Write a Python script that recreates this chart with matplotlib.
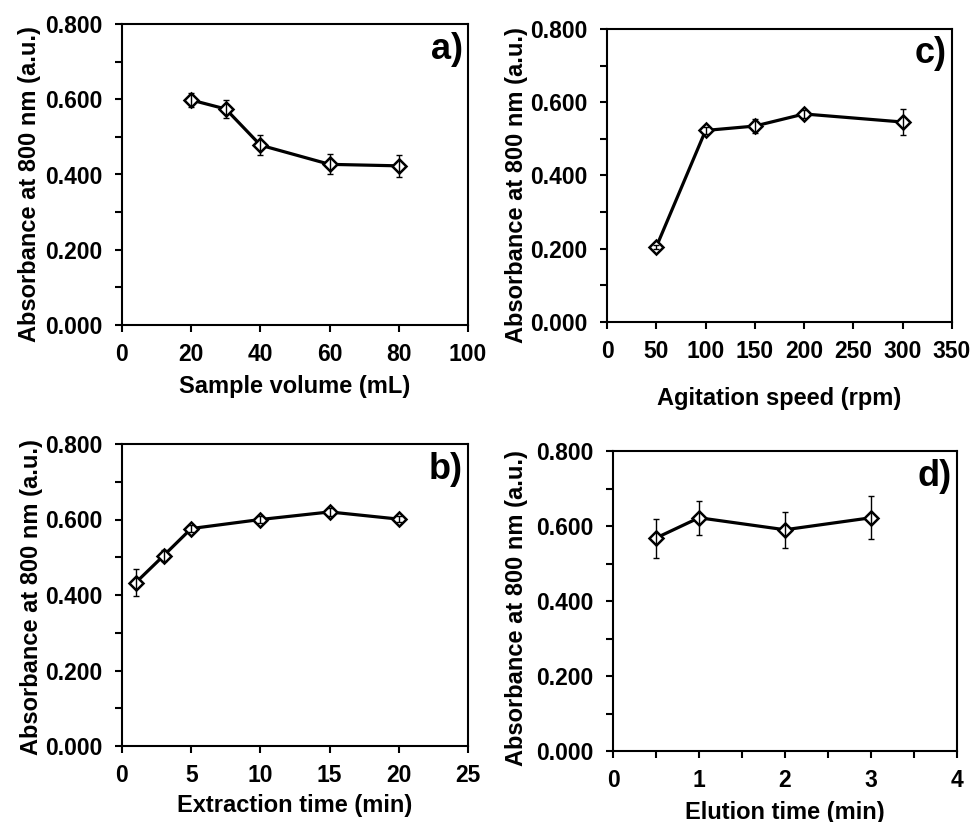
import matplotlib
matplotlib.use("Agg")
import matplotlib.pyplot as plt
from matplotlib.ticker import MultipleLocator, FormatStrFormatter

plt.rcParams["font.family"] = ["Liberation Sans", "DejaVu Sans"]
plt.rcParams["font.weight"] = "bold"

# ---------------- data ----------------
vol_x = [20, 30, 40, 60, 80]
vol_y = [0.598, 0.574, 0.478, 0.427, 0.423]
vol_err = [0.018, 0.025, 0.027, 0.027, 0.029]

ext_x = [1, 3, 5, 10, 15, 20]
ext_y = [0.433, 0.504, 0.576, 0.600, 0.620, 0.601]
ext_err = [0.035, 0.015, 0.010, 0.010, 0.010, 0.008]

agi_x = [50, 100, 150, 200, 300]
agi_y = [0.205, 0.523, 0.535, 0.568, 0.546]
agi_err = [0.005, 0.010, 0.019, 0.012, 0.036]

elu_x = [0.5, 1, 2, 3]
elu_y = [0.568, 0.622, 0.590, 0.622]
elu_err = [0.052, 0.045, 0.048, 0.057]

W, H = 974, 822
fig = plt.figure(figsize=(W / 100, H / 100), dpi=100)


def make_axes(l, r, t, b):
    return fig.add_axes([l / W, 1 - b / H, (r - l) / W, (b - t) / H])


# layout in pixels: box(l,r,t,b), xlabel centre y, ylabel anchor (x, y)
panels = [
    (vol_x, vol_y, vol_err, (122, 468, 24, 325), 100, 20, None, "Sample volume (mL)", 386, (41, 184), "a)"),
    (agi_x, agi_y, agi_err, (607, 952, 29, 322), 350, 50, None, "Agitation speed (rpm)", 398, (528, 185), "c)"),
    (ext_x, ext_y, ext_err, (122, 468, 444, 746), 25, 5, None, "Extraction time (min)", 805, (43, 597), "b)"),
    (elu_x, elu_y, elu_err, (613, 957, 451, 751), 4, 1, 0.5, "Elution time (min)", 812, (528, 608), "d)"),
]

for x, y, err, box, xmax, xstep, xminor, xlabel, xlab_y, ylab_xy, letter in panels:
    ax = make_axes(*box)
    ax.plot(x, y, color="black", lw=2.3, marker="D", ms=7.5,
            mfc="white", mec="black", mew=1.8, zorder=3)
    ax.errorbar(x, y, yerr=err, fmt="none", ecolor="black",
                elinewidth=1.0, capsize=2.5, capthick=1.0, zorder=4)
    ax.set_xlim(0, xmax)
    ax.set_ylim(0, 0.8)
    ax.xaxis.set_major_locator(MultipleLocator(xstep))
    if xminor:
        ax.xaxis.set_minor_locator(MultipleLocator(xminor))
    ax.yaxis.set_major_locator(MultipleLocator(0.2))
    ax.yaxis.set_minor_locator(MultipleLocator(0.1))
    ax.yaxis.set_major_formatter(FormatStrFormatter("%.3f"))
    ax.tick_params(which="both", direction="out", width=1.5, length=5,
                   labelsize=16.5)
    ax.tick_params(axis="y", pad=9)
    ax.tick_params(axis="x", pad=8)
    for s in ax.spines.values():
        s.set_linewidth(1.5)
    l, r, t, b = box
    ax.set_ylabel("Absorbance at 800 nm (a.u.)", fontsize=17, fontweight="bold")
    ax.yaxis.set_label_coords((ylab_xy[0] - l) / (r - l), (b - ylab_xy[1]) / (b - t))
    fig.text((l + r) / 2 / W, 1 - xlab_y / H, xlabel, ha="center", va="center",
             fontsize=17, fontweight="bold")
    ax.text(0.985, 0.975, letter, transform=ax.transAxes, ha="right", va="top",
            fontsize=26, fontweight="bold")

fig.savefig("out.png", dpi=100)
